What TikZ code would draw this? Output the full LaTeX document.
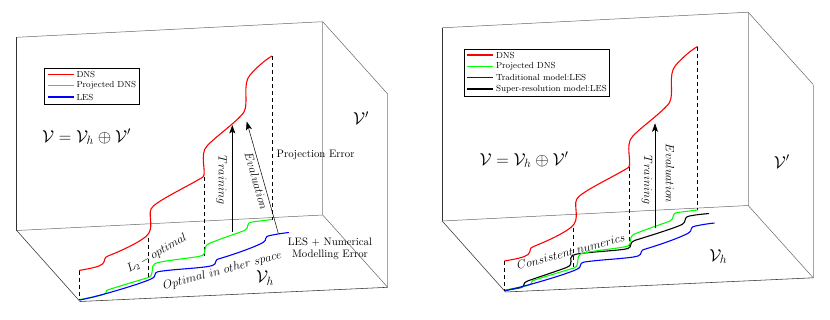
\documentclass[tikz,border=0pt]{standalone}
\usetikzlibrary{arrows.meta}
\tikzset{
 edgedark/.style={draw=black!80, line width=0.55pt},
 edgegray/.style={draw=black!60, line width=0.5pt},
 edgelight/.style={draw=black!35, line width=0.7pt},
 dns/.style={draw=red, line width=1.1pt},
 pdns/.style={draw=green, line width=1.1pt},
 les/.style={draw=blue, line width=1.1pt},
 srm/.style={draw=black, line width=1.1pt},
 proj/.style={draw=black, line width=0.8pt, dash pattern=on 4pt off 3pt},
 arr/.style={-{Stealth[length=8.5pt,width=6pt,inset=2pt]}, line width=0.6pt},
 lbl/.style={inner sep=0pt, font=\fontsize{12}{14}\selectfont},
 txt/.style={inner sep=0pt, font=\fontsize{10.8}{13}\selectfont},
 big/.style={inner sep=0pt, font=\fontsize{18}{20}\selectfont},
 leg/.style={inner sep=0pt, anchor=west, font=\fontsize{8.8}{10}\selectfont},
 legbox/.style={draw=black, line width=0.7pt},
}
\newcommand{\panelbox}{%
 \draw[edgedark] (16.7,37.3) -- (16.7,230.5);
 \draw[edgegray] (16.7,37.3) -- (322.7,21.7);
 \draw[edgelight] (322.7,21.7) -- (322.7,215);
 \draw[edgegray] (16.7,230.5) -- (322.7,215);
 \draw[edgegray] (322.7,21.7) -- (387.7,94);
 \draw[edgelight] (387.7,94) -- (387.7,287.3);
 \draw[edgedark] (16.7,230.5) -- (80,301.5);
 \draw[edgegray] (322.7,215) -- (387.7,287.3);
 \draw[edgedark] (80,301.5) -- (387.7,287.3);
}
\newcommand{\paneldash}{%
 \draw[proj] (79,270.5) -- (79,300);
 \draw[proj] (148,237.5) -- (148,277.5);
 \draw[proj] (204,176.5) -- (204,255.5);
 \draw[proj] (272,56) -- (272,219.5);
}
\newcommand{\panelred}{%
 \draw[dns] (79,270.5)
  .. controls (90,268.5) and (99,267) .. (102.5,264)
  .. controls (106,261) and (103,257.5) .. (108,256)
  .. controls (122,250.5) and (138,243) .. (146,236.5)
  .. controls (155,229) and (148,216) .. (151,209)
  .. controls (154,202) and (185,188) .. (203,177)
  .. controls (207,173) and (199,154) .. (207,146)
  .. controls (215,137) and (238,121) .. (244,112)
  .. controls (249,103) and (242,84) .. (250,75)
  .. controls (256,68) and (265,60) .. (272,56);
}
\newcommand{\panelgreen}{%
 \draw[pdns] (80,299.5)
  .. controls (90,297.5) and (100,296) .. (104.5,294)
  .. controls (108,292.5) and (104,290.5) .. (109,289.5)
  .. controls (120,286) and (140,280) .. (148.5,277.5)
  .. controls (155,275) and (150,266) .. (155,263.5)
  .. controls (165,260) and (195,258) .. (202.5,255.5)
  .. controls (207,254) and (202,247) .. (209,243.5)
  .. controls (220,239) and (238,233) .. (244.5,230.5)
  .. controls (250,228) and (245,223) .. (252,222)
  .. controls (260,221) and (268,220) .. (272,219.5);
}
\newcommand{\panelblue}{%
 \draw[les] (80,300)
  .. controls (100,296) and (140,284) .. (151,279)
  .. controls (158,276) and (152,273) .. (159,271.5)
  .. controls (175,269) and (205,268) .. (212.5,265.5)
  .. controls (218,263.5) and (213,260) .. (220,258.5)
  .. controls (235,254) and (255,247) .. (263,242.5)
  .. controls (268,239.5) and (263,237) .. (270,235.5)
  .. controls (277,234) and (284,233) .. (289,232.5);
}
\begin{document}
\begin{tikzpicture}[x=1pt,y=-1pt]
\useasboundingbox (0,0) rectangle (830,319);
% ---------------- left panel ----------------
\panelbox
\paneldash
\panelred
\panelgreen
\panelblue
\draw[legbox] (44.3,68.3) rectangle (139,104.3);
\draw[dns] (47.7,74.3) -- (74,74.3);
\draw[pdns] (47.7,85.7) -- (74,85.7);
\draw[les] (47.7,97) -- (74,97);
\node[leg] (lgLa) at (76.3,74.3) {DNS};
\node[leg] (lgLb) at (76.3,85.7) {Projected DNS};
\node[leg] (lgLc) at (76.3,97) {LES};
\coordinate (tLa) at (232.3,231.5);
\coordinate (tLb) at (232.3,125);
\draw[arr] (tLa) -- (tLb);
\coordinate (eLa) at (278.3,233.3);
\coordinate (eLb) at (246.7,121.5);
\draw[arr, line width=0.5pt] (eLa) -- (eLb);
\node[lbl, rotate=-90] (trL) at (221.5,180) {$Training$};
\node[lbl, rotate=-74] (evL) at (256.5,181) {$Evaluation$};
\node[txt, anchor=west] (peL) at (276.5,155) {Projection Error};
\node[txt, align=center] (leL) at (330,248.5) {LES + Numerical\\[-1pt]Modelling Error};
\node[lbl, rotate=30] (l2L) at (157,253.5) {$L_2-optimal$};
\node[lbl, rotate=15] (opL) at (222.5,271) {$Optimal\ in\ other\ space$};
\node[big] (eqL) at (86.5,137) {$\mathcal{V}=\mathcal{V}_h\oplus\mathcal{V}'$};
\node[big] (vpL) at (361,118) {$\mathcal{V}'$};
\node[big] (vhL) at (265,278) {$\mathcal{V}_h$};
% ---------------- right panel ----------------
\begin{scope}[shift={(425.5,-9.5)}]
\panelbox
\paneldash
\panelred
\draw[srm] (79.5,300)
  .. controls (85,299) and (92,298) .. (96,297)
  .. controls (99.5,296) and (97,292) .. (102,290.5)
  .. controls (115,286) and (133,280) .. (141,277)
  .. controls (150,273.5) and (142,268) .. (147,265)
  .. controls (150,263.5) and (152,263.5) .. (155,263)
  .. controls (170,261) and (195,260) .. (202.5,258)
  .. controls (207,256.5) and (203,252) .. (209,250)
  .. controls (225,245) and (248,238) .. (256.5,234)
  .. controls (262,231) and (257,227) .. (264,225.5)
  .. controls (271,224) and (279,223.5) .. (283.5,223);
\panelgreen
\panelblue
\end{scope}
\draw[legbox] (464.3,49.3) rectangle (609.3,96.7);
\draw[dns] (466.7,55) -- (493.3,55);
\draw[pdns] (466.7,66.3) -- (493.3,66.3);
\draw[les] (466.7,77.7) -- (493.3,77.7);
\draw[srm] (466.7,89) -- (493.3,89);
\node[leg] (lgRa) at (495.8,55) {DNS};
\node[leg] (lgRb) at (495.8,66.3) {Projected DNS};
\node[leg] (lgRc) at (495.8,77.7) {Traditional model:LES};
\node[leg] (lgRd) at (495.8,89) {Super-resolution model:LES};
\coordinate (tRa) at (655,228.3);
\coordinate (tRb) at (655,123.3);
\draw[arr] (tRa) -- (tRb);
\node[lbl, rotate=-90] (trR) at (647,180) {$Training$};
\node[lbl, rotate=-90] (evR) at (670,173.3) {$Evaluation$};
\node[lbl, rotate=15] (cnR) at (571,251.5) {$Consistent\ numerics$};
\node[big] (eqR) at (524,160) {$\mathcal{V}=\mathcal{V}_h\oplus\mathcal{V}'$};
\node[big] (vpR) at (781.7,161.7) {$\mathcal{V}'$};
\node[big] (vhR) at (718.3,256.7) {$\mathcal{V}_h$};
\end{tikzpicture}
\end{document}
